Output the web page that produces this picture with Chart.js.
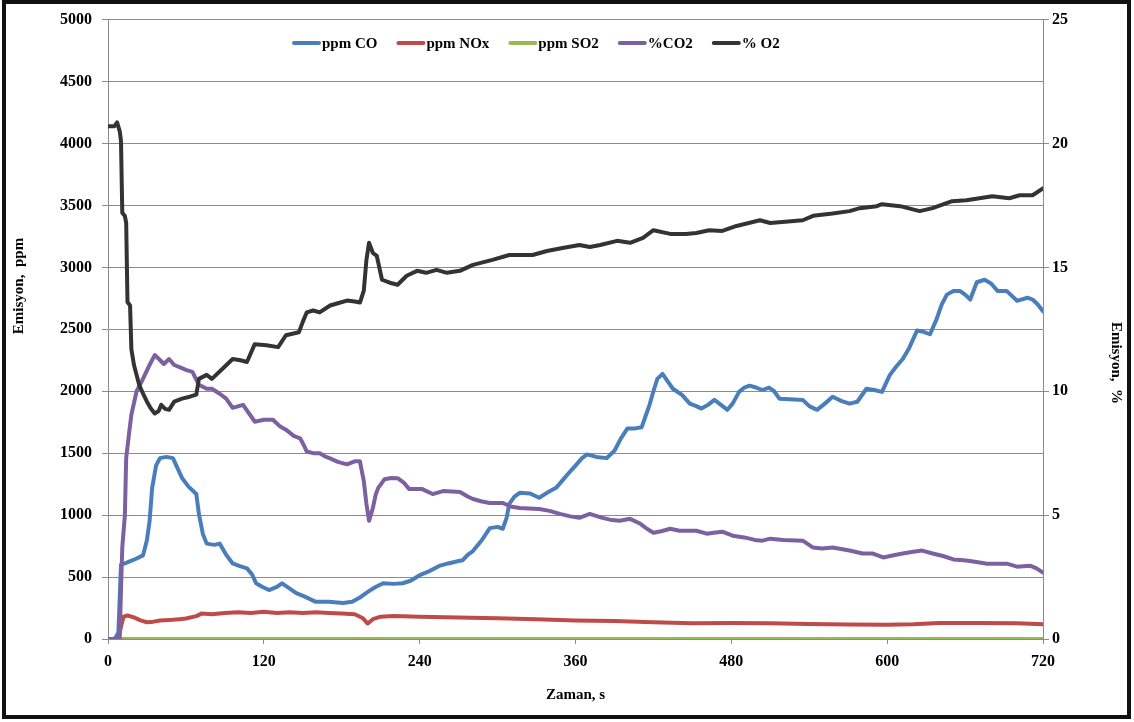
<!DOCTYPE html>
<html>
<head>
<meta charset="utf-8">
<script src="https://cdn.jsdelivr.net/npm/chart.js@4.4.1/dist/chart.umd.min.js"></script>
<style>
    body { margin: 0; background: #fff; }
    #wrap { position: relative; width: 1134px; height: 722px; }
    #chart { position: absolute; left: 0; top: 0; }
    .frame { position: absolute; left: 2px; top: 0; width: 1121px; height: 711px; border: 4px solid #111; pointer-events: none; }
</style>
</head>
<body>
<div id="wrap">
    <canvas id="chart" width="1134" height="722"></canvas>
    <div class="frame"></div>
</div>
<script>
// emission measurements, time in seconds
var coTime = [0, 5, 8, 10, 13, 20, 27, 30, 32, 34, 37, 40, 45, 50, 57, 62, 68, 70, 73, 76, 82, 86, 91, 96, 101, 107, 111, 114, 119, 124, 130, 134, 138, 145, 152, 160, 170, 181, 188, 194, 200, 206, 212, 220, 227, 233, 240, 248, 255, 262, 270, 273, 277, 281, 288, 294, 300, 304, 307, 309, 313, 317, 325, 332, 338, 345, 350, 354, 360, 365, 369, 376, 384, 390, 395, 400, 406, 411, 414, 417, 420, 423, 427, 431, 435, 442, 448, 453, 457, 462, 467, 472, 477, 481, 486, 490, 494, 499, 504, 509, 513, 517, 525, 535, 540, 546, 552, 558, 565, 571, 577, 584, 590, 596, 602, 607, 612, 617, 623, 628, 633, 638, 642, 646, 651, 656, 660, 664, 669, 675, 680, 685, 692, 700, 708, 712, 716, 720];
var coPpm = [0, 0, 50, 600, 610, 640, 675, 800, 950, 1220, 1400, 1460, 1470, 1460, 1300, 1230, 1170, 1010, 850, 770, 760, 770, 680, 610, 590, 570, 520, 450, 420, 395, 420, 450, 420, 370, 340, 300, 300, 290, 300, 335, 380, 420, 450, 445, 450, 470, 515, 550, 590, 610, 630, 635, 680, 710, 800, 895, 905, 890, 980, 1090, 1150, 1180, 1175, 1140, 1180, 1220, 1280, 1330, 1400, 1460, 1490, 1470, 1460, 1520, 1620, 1700, 1700, 1710, 1800, 1890, 2000, 2100, 2140, 2080, 2020, 1970, 1900, 1880, 1860, 1890, 1930, 1890, 1850, 1900, 1995, 2030, 2045, 2030, 2010, 2030, 2000, 1940, 1935, 1930, 1880, 1850, 1900, 1955, 1920, 1900, 1915, 2020, 2010, 1995, 2130, 2200, 2260, 2350, 2490, 2480, 2460, 2580, 2700, 2780, 2810, 2810, 2780, 2740, 2880, 2900, 2870, 2810, 2810, 2730, 2755, 2740, 2700, 2645];

var noxTime = [0, 8, 10, 12, 15, 20, 25, 30, 35, 40, 50, 55, 60, 68, 72, 80, 90, 100, 110, 120, 130, 140, 150, 160, 170, 180, 190, 196, 200, 204, 210, 220, 240, 260, 280, 300, 330, 360, 390, 420, 450, 480, 510, 540, 570, 600, 620, 640, 670, 700, 720];
var noxPpm = [0, 0, 100, 180, 190, 175, 150, 135, 140, 150, 155, 160, 165, 185, 205, 200, 210, 215, 210, 220, 210, 215, 210, 215, 210, 205, 200, 170, 125, 160, 180, 185, 180, 175, 172, 168, 160, 150, 145, 135, 128, 130, 128, 122, 118, 115, 120, 130, 130, 128, 120];

var so2Time = [11, 720];
var so2Ppm = [0, 0];

var co2Time = [0, 9, 10, 11, 13, 14, 16, 18, 22, 26, 32, 36, 40, 43, 47, 51, 56, 60, 65, 70, 76, 80, 86, 91, 96, 104, 110, 113, 120, 127, 132, 137, 143, 148, 151, 153, 158, 163, 168, 171, 177, 184, 190, 194, 197, 199, 201, 204, 206, 208, 213, 218, 223, 228, 232, 242, 250, 258, 265, 271, 277, 281, 288, 294, 304, 310, 317, 332, 340, 348, 356, 363, 371, 380, 388, 394, 402, 410, 415, 420, 426, 433, 440, 453, 461, 468, 473, 481, 490, 498, 504, 510, 520, 535, 543, 550, 558, 571, 581, 589, 597, 605, 612, 620, 627, 635, 643, 651, 661, 670, 677, 692, 700, 710, 715, 720];
var co2Pct = [0, 0, 2, 3.7, 5, 7.3, 8.2, 9.05, 10, 10.4, 11.06, 11.46, 11.26, 11.1, 11.3, 11.06, 10.95, 10.86, 10.78, 10.26, 10.1, 10.1, 9.9, 9.7, 9.33, 9.45, 9.0, 8.77, 8.85, 8.85, 8.6, 8.45, 8.2, 8.1, 7.8, 7.57, 7.5, 7.5, 7.35, 7.29, 7.15, 7.05, 7.17, 7.17, 6.37, 5.45, 4.77, 5.29, 5.8, 6.09, 6.45, 6.5, 6.49, 6.3, 6.05, 6.05, 5.85, 5.97, 5.95, 5.93, 5.75, 5.65, 5.55, 5.49, 5.49, 5.35, 5.29, 5.25, 5.17, 5.05, 4.95, 4.89, 5.05, 4.9, 4.8, 4.77, 4.85, 4.65, 4.45, 4.29, 4.35, 4.45, 4.37, 4.37, 4.25, 4.3, 4.33, 4.17, 4.1, 4.0, 3.97, 4.05, 4.0, 3.97, 3.69, 3.65, 3.69, 3.57, 3.45, 3.45, 3.29, 3.38, 3.45, 3.52, 3.57, 3.45, 3.35, 3.21, 3.17, 3.1, 3.04, 3.04, 2.92, 2.96, 2.85, 2.68];

var o2Time = [0, 5, 7, 9, 10, 11, 13, 14, 15, 17, 18, 20, 24, 27, 30, 33, 36, 39, 41, 44, 47, 51, 57, 63, 68, 70, 76, 80, 88, 96, 102, 107, 113, 122, 131, 137, 147, 150, 153, 158, 163, 171, 177, 184, 190, 194, 197, 199, 201, 204, 207, 211, 217, 223, 230, 238, 245, 253, 261, 271, 281, 296, 309, 327, 338, 350, 363, 371, 379, 392, 402, 412, 420, 433, 445, 453, 463, 473, 484, 502, 510, 535, 543, 558, 571, 579, 592, 596, 610, 625, 635, 650, 661, 681, 694, 702, 712, 720];
var o2Pct = [20.7, 20.7, 20.85, 20.5, 20.1, 17.2, 17.07, 16.8, 13.6, 13.46, 11.7, 11.06, 10.26, 9.9, 9.58, 9.3, 9.1, 9.2, 9.45, 9.29, 9.25, 9.58, 9.7, 9.78, 9.86, 10.5, 10.66, 10.5, 10.9, 11.3, 11.25, 11.18, 11.9, 11.86, 11.78, 12.26, 12.38, 12.8, 13.18, 13.26, 13.18, 13.46, 13.55, 13.66, 13.62, 13.58, 14.06, 15.3, 15.99, 15.58, 15.46, 14.5, 14.38, 14.3, 14.66, 14.86, 14.78, 14.9, 14.78, 14.86, 15.1, 15.3, 15.5, 15.5, 15.66, 15.78, 15.9, 15.82, 15.9, 16.07, 15.99, 16.19, 16.5, 16.35, 16.35, 16.39, 16.5, 16.47, 16.67, 16.9, 16.79, 16.9, 17.08, 17.17, 17.27, 17.39, 17.47, 17.55, 17.47, 17.27, 17.39, 17.67, 17.71, 17.87, 17.79, 17.91, 17.91, 18.19];

var seriesNames = ['ppm CO', 'ppm NOx', 'ppm SO2', '%CO2', '% O2'];
var seriesColors = ['#4a7ebb', '#be4b48', '#98b954', '#7d60a0', '#333333'];

var FONT = 'Liberation Serif, Times New Roman, serif';
var GRID = '#8c8c8c';

var pairs = function (xs, ys) {
    return xs.map(function (x, i) {
        return { x: x, y: ys[i] };
    });
};

var line = function (i, xs, ys, axis) {
    return {
        label: seriesNames[i],
        data: pairs(xs, ys),
        yAxisID: axis,
        borderColor: seriesColors[i],
        backgroundColor: seriesColors[i],
        borderWidth: 4,
        borderJoinStyle: 'round',
        borderCapStyle: 'round',
        pointRadius: 0,
        tension: 0,
        fill: false,
        order: 5 - i
    };
};

// legend + side titles sit inside/around the plot like the excel original
var overlay = {
    id: 'overlay',
    afterDraw: function (chart) {
        var ctx = chart.ctx;
        ctx.save();
        ctx.font = 'bold 15px ' + FONT;
        ctx.textBaseline = 'middle';
        ctx.fillStyle = '#000';

        var x = 292, y = 43;
        seriesNames.forEach(function (name, i) {
            ctx.strokeStyle = seriesColors[i];
            ctx.lineWidth = 4;
            ctx.lineCap = 'round';
            ctx.beginPath();
            ctx.moveTo(x + 2, y);
            ctx.lineTo(x + 27, y);
            ctx.stroke();
            ctx.textAlign = 'left';
            ctx.fillText(name, x + 30, y + 1);
            x += 30 + ctx.measureText(name).width + 19;
        });

        ctx.textAlign = 'center';
        ctx.save();
        ctx.translate(19, 286);
        ctx.rotate(-Math.PI / 2);
        ctx.fillText('Emisyon,  ppm', 0, 0);
        ctx.restore();

        ctx.save();
        ctx.translate(1116, 363);
        ctx.rotate(Math.PI / 2);
        ctx.fillText('Emisyon,  %', 0, 0);
        ctx.restore();

        ctx.restore();
    }
};

var tickFont = { family: FONT, size: 16, weight: 'bold' };
var titleFont = { family: FONT, size: 15, weight: 'bold' };
var plain = function (v) { return String(v); };

new Chart(document.getElementById('chart'), {
    type: 'line',
    data: {
        datasets: [
            line(0, coTime, coPpm, 'y'),
            line(1, noxTime, noxPpm, 'y'),
            line(2, so2Time, so2Ppm, 'y'),
            line(3, co2Time, co2Pct, 'y1'),
            line(4, o2Time, o2Pct, 'y1')
        ]
    },
    options: {
        responsive: false,
        animation: false,
        devicePixelRatio: 1,
        layout: { padding: { top: 15, left: 0, right: 0, bottom: 0 } },
        plugins: {
            legend: { display: false },
            tooltip: { enabled: false }
        },
        scales: {
            x: {
                type: 'linear',
                min: 0,
                max: 720,
                ticks: { stepSize: 120, color: '#000', font: tickFont, padding: 8, maxRotation: 0, callback: plain },
                grid: { drawOnChartArea: false, color: GRID, tickLength: 5 },
                border: { display: true, color: GRID },
                title: {
                    display: true,
                    text: 'Zaman, s',
                    color: '#000',
                    font: titleFont,
                    padding: { top: 0, bottom: 18 }
                },
                afterFit: function (scale) { scale.height = 83; }
            },
            y: {
                position: 'left',
                min: 0,
                max: 5000,
                ticks: { stepSize: 500, color: '#000', font: tickFont, padding: 10, callback: plain },
                grid: { color: GRID, tickLength: 6 },
                border: { display: true, color: GRID },
                afterFit: function (scale) { scale.width = 108; }
            },
            y1: {
                position: 'right',
                min: 0,
                max: 25,
                ticks: { stepSize: 5, color: '#000', font: tickFont, padding: 3, callback: plain },
                grid: { drawOnChartArea: false, color: GRID, tickLength: 6 },
                border: { display: true, color: GRID },
                afterFit: function (scale) { scale.width = 91; }
            }
        }
    },
    plugins: [overlay]
});
</script>
</body>
</html>
